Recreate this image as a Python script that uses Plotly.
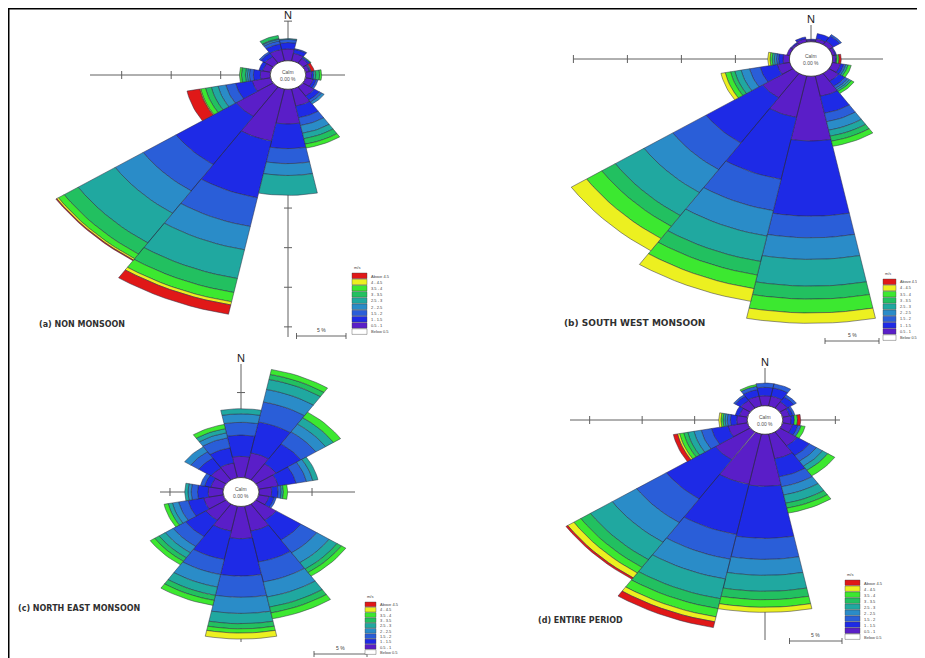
import numpy as np
import plotly.graph_objects as go

OFF = 8                      # page body margin of the exported html
WF, HF = 917, 650            # figure size so that it fills the 925x658 window

# ---------------- data ----------------
directions = ["N", "NNE", "NE", "ENE", "E", "ESE", "SE", "SSE",
              "S", "SSW", "SW", "WSW", "W", "WNW", "NW", "NNW"]
dir_angles = [0, 22.5, 45, 67.5, 90, 112.5, 135, 157.5,
              180, 202.5, 225, 247.5, 270, 292.5, 315, 337.5]

# speed classes drawn from the centre outwards (m/s)
speed_classes = ["0.5 - 1", "1 - 1.5", "1.5 - 2", "2 - 2.5", "2.5 - 3",
                 "3 - 3.5", "3.5 - 4", "4 - 4.5", "Above 4.5"]
class_colors = ["#5A1EC8", "#1E2AE6", "#2A5ED8", "#2A8CC8", "#20A8A0",
                "#22C060", "#3CE830", "#ECF020", "#E01818"]

legend_labels = ["Above 4.5", "4 - 4.5", "3.5 - 4", "3 - 3.5", "2.5 - 3",
                 "2 - 2.5", "1.5 - 2", "1 - 1.5", "0.5 - 1", "Below 0.5"]
legend_colors = ["#E01818", "#ECF020", "#3CE830", "#22C060", "#20A8A0",
                 "#2A8CC8", "#2A5ED8", "#1E2AE6", "#5A1EC8", "#FFFFFF"]

# frequency (%) per speed class (rows, inner -> outer) and direction (columns N..NNW)
non_monsoon = [
    [1.5, 1.0, 0.7, 0.4, 0.6, 0.8, 1.4, 2.2, 4.4, 6.7, 4.5, 1.9, 1.0, 0.8, 1.0, 1.5],
    [0.8, 0.5, 0.2, 0.1, 0.2, 0.3, 0.6, 1.5, 3.1, 7.3, 7.3, 1.7, 0.7, 0.4, 0.5, 0.7],
    [0.4, 0.1, 0.0, 0.0, 0.0, 0.2, 0.3, 1.0, 1.9, 3.7, 4.0, 1.0, 0.4, 0.0, 0.2, 0.4],
    [0.0, 0.0, 0.0, 0.1, 0.0, 0.0, 0.3, 1.0, 1.5, 3.0, 3.4, 0.8, 0.2, 0.0, 0.0, 0.2],
    [0.1, 0.0, 0.0, 0.0, 0.2, 0.0, 0.0, 0.7, 2.5, 3.7, 4.5, 0.7, 0.2, 0.0, 0.0, 0.1],
    [0.0, 0.0, 0.1, 0.0, 0.4, 0.0, 0.0, 0.7, 0.0, 1.8, 1.7, 0.6, 0.4, 0.0, 0.0, 0.4],
    [0.0, 0.0, 0.0, 0.0, 0.2, 0.0, 0.0, 0.5, 0.0, 1.2, 0.7, 0.5, 0.2, 0.0, 0.0, 0.0],
    [0.0, 0.0, 0.0, 0.0, 0.0, 0.0, 0.0, 0.0, 0.0, 0.4, 0.2, 0.1, 0.0, 0.0, 0.0, 0.0],
    [0.0, 0.0, 0.0, 0.3, 0.0, 0.0, 0.0, 0.0, 0.0, 1.2, 0.1, 1.3, 0.0, 0.0, 0.0, 0.0],
]
south_west_monsoon = [
    [0.2, 0.4, 0.5, 0.3, 0.3, 0.8, 1.1, 2.4, 7.5, 4.9, 3.4, 1.2, 0.6, 0.3, 0.2, 0.4],
    [0.1, 0.6, 0.7, 0.1, 0.1, 0.3, 0.7, 2.0, 8.7, 7.3, 6.3, 1.6, 0.4, 0.0, 0.1, 0.2],
    [0.0, 0.0, 0.2, 0.0, 0.0, 0.2, 0.3, 1.0, 2.5, 3.7, 3.7, 1.0, 0.2, 0.0, 0.0, 0.0],
    [0.0, 0.0, 0.0, 0.0, 0.0, 0.0, 0.2, 1.0, 2.5, 3.0, 3.2, 0.8, 0.2, 0.0, 0.0, 0.0],
    [0.0, 0.0, 0.0, 0.0, 0.0, 0.2, 0.2, 0.7, 3.1, 3.0, 3.2, 0.6, 0.2, 0.0, 0.0, 0.0],
    [0.0, 0.0, 0.0, 0.0, 0.0, 0.0, 0.0, 0.6, 1.5, 1.6, 1.5, 0.4, 0.0, 0.0, 0.0, 0.0],
    [0.0, 0.0, 0.0, 0.0, 0.2, 0.3, 0.3, 0.6, 1.6, 1.6, 1.7, 0.5, 0.2, 0.0, 0.0, 0.0],
    [0.0, 0.0, 0.0, 0.0, 0.0, 0.0, 0.0, 0.0, 1.2, 1.5, 1.7, 0.4, 0.2, 0.0, 0.0, 0.0],
    [0.0, 0.0, 0.0, 0.0, 0.2, 0.0, 0.0, 0.0, 0.0, 0.0, 0.0, 0.0, 0.0, 0.0, 0.0, 0.0],
]
north_east_monsoon = [
    [2.5, 3.0, 2.3, 1.9, 1.2, 1.0, 2.3, 3.0, 3.8, 3.0, 2.3, 1.9, 1.4, 1.2, 1.7, 1.8],
    [2.5, 3.7, 2.8, 1.7, 0.6, 0.5, 2.8, 3.7, 4.4, 3.4, 2.3, 1.5, 1.0, 0.6, 1.4, 1.8],
    [1.5, 2.4, 1.7, 1.0, 0.3, 0.2, 1.8, 2.4, 2.5, 1.8, 1.4, 0.9, 0.6, 0.4, 0.9, 1.2],
    [1.0, 1.5, 1.1, 0.6, 0.0, 0.0, 1.4, 1.8, 1.9, 1.5, 0.9, 0.6, 0.3, 0.0, 0.7, 0.6],
    [0.6, 1.2, 0.9, 0.5, 0.2, 0.0, 0.9, 1.2, 1.2, 1.0, 0.7, 0.4, 0.3, 0.0, 0.0, 0.5],
    [0.0, 0.6, 0.0, 0.0, 0.0, 0.0, 0.5, 0.7, 0.6, 0.6, 0.5, 0.0, 0.0, 0.0, 0.0, 0.0],
    [0.0, 0.6, 0.8, 0.0, 0.4, 0.0, 0.5, 0.7, 0.5, 0.6, 0.5, 0.4, 0.0, 0.0, 0.0, 0.5],
    [0.0, 0.0, 0.0, 0.0, 0.0, 0.0, 0.0, 0.0, 0.7, 0.0, 0.0, 0.0, 0.0, 0.0, 0.0, 0.0],
    [0.0, 0.0, 0.0, 0.0, 0.0, 0.0, 0.0, 0.0, 0.0, 0.0, 0.0, 0.0, 0.0, 0.0, 0.0, 0.0],
]
entire_period = [
    [1.2, 1.2, 0.9, 0.7, 0.8, 1.0, 2.0, 3.0, 6.2, 6.1, 4.0, 1.9, 1.0, 0.8, 1.1, 1.2],
    [1.0, 1.0, 0.7, 0.3, 0.3, 0.5, 1.4, 2.2, 6.2, 6.1, 5.6, 1.6, 0.6, 0.4, 0.6, 0.8],
    [0.5, 0.5, 0.3, 0.2, 0.0, 0.3, 0.8, 1.2, 2.5, 3.0, 3.4, 1.0, 0.3, 0.0, 0.2, 0.4],
    [0.0, 0.0, 0.0, 0.0, 0.0, 0.0, 0.7, 1.0, 1.9, 2.4, 2.8, 0.7, 0.2, 0.0, 0.0, 0.0],
    [0.0, 0.0, 0.0, 0.0, 0.0, 0.0, 0.6, 1.0, 1.9, 2.4, 2.5, 0.6, 0.2, 0.0, 0.0, 0.0],
    [0.0, 0.0, 0.0, 0.0, 0.0, 0.0, 0.0, 0.6, 1.0, 1.2, 1.1, 0.4, 0.0, 0.0, 0.0, 0.0],
    [0.0, 0.0, 0.0, 0.0, 0.3, 0.4, 0.8, 0.6, 0.9, 1.0, 0.8, 0.4, 0.2, 0.0, 0.0, 0.2],
    [0.0, 0.0, 0.0, 0.0, 0.0, 0.0, 0.0, 0.0, 0.6, 0.6, 0.7, 0.2, 0.2, 0.0, 0.0, 0.0],
    [0.0, 0.0, 0.0, 0.0, 0.3, 0.0, 0.0, 0.0, 0.0, 0.7, 0.2, 0.4, 0.0, 0.0, 0.0, 0.0],
]

panel_titles = ["(a) NON MONSOON", "(b) SOUTH WEST MONSOON",
                "(c) NORTH EAST MONSOON", "(d) ENTIRE PERIOD"]
calm_text = ["0.00 %", "0.00 %", "0.00 %", "0.00 %"]
scale_step = 5  # % per scale unit

# ---------------- placement (window pixels) ----------------
# cx, cy: rose centre; sx, sy: pixels per % horizontally / vertically
panels = [
    dict(data=non_monsoon, cx=288, cy=75, sx=9.9, sy=7.92, hole=1.8, hl=198, hr=57, vu=54, vd=262,
         title=(37, 325, 8), leg=(352, 273, 15, 6.2, 4), bar=(346, 336)),
    dict(data=south_west_monsoon, cx=811, cy=59, sx=10.8, sy=8.64, hole=2.0, hl=238, hr=72, vu=34, vd=245,
         title=(562, 323, 9), leg=(883, 279, 13, 6.2, 3.8), bar=(879, 341)),
    dict(data=north_east_monsoon, cx=241, cy=492, sx=10.6, sy=8.5, hole=1.7, hl=81, hr=114, vu=128, vd=150,
         title=(16, 608, 8), leg=(365, 602, 11, 5.3, 4), bar=(367, 654)),
    dict(data=entire_period, cx=765, cy=420, sx=10.5, sy=8.4, hole=1.7, hl=195, hr=75, vu=52, vd=220,
         title=(536, 620, 8), leg=(845, 580, 15, 6.0, 4), bar=(842, 641)),
]


def px(x):
    return (x - OFF) / WF


def py(y):
    return 1 - (y - OFF) / HF


fig = go.Figure()
shapes = []
annotations = []
HALF = 11.25


def wedge(theta, r0, r1, n=10):
    a = np.radians(np.linspace(theta - HALF, theta + HALF, n))
    xo, yo = r1 * np.sin(a), r1 * np.cos(a)
    xi, yi = r0 * np.sin(a[::-1]), r0 * np.cos(a[::-1])
    xs = list(xo) + list(xi) + [xo[0]]
    ys = list(yo) + list(yi) + [yo[0]]
    return xs, ys


for i, p in enumerate(panels):
    k = "" if i == 0 else str(i + 1)
    xr, yr = "x" + k, "y" + k
    sx, sy = p["sx"], p["sy"]
    cx, cy = p["cx"] - OFF, p["cy"] - OFF
    h = p["hole"]
    fig.update_layout({
        "xaxis" + k: dict(domain=[0, 1], range=[-cx / sx, (WF - cx) / sx], visible=False,
                          fixedrange=True, anchor=yr),
        "yaxis" + k: dict(domain=[0, 1], range=[-(HF - cy) / sy, cy / sy], visible=False,
                          fixedrange=True, anchor=xr),
    })
    data = np.array(p["data"])
    base = h + np.concatenate([np.zeros((1, 16)), np.cumsum(data, axis=0)[:-1]], axis=0)
    for j, name in enumerate(speed_classes):
        xs, ys = [], []
        for d, ang in enumerate(dir_angles):
            v = data[j, d]
            if v <= 0:
                continue
            wx, wy = wedge(ang, base[j, d], base[j, d] + v)
            xs += wx + [None]
            ys += wy + [None]
        if not xs:
            continue
        fig.add_trace(go.Scatter(x=xs, y=ys, xaxis=xr, yaxis=yr, mode="lines",
                                 fill="toself", fillcolor=class_colors[j],
                                 line=dict(color="#2a2a40", width=0.5),
                                 name=name, showlegend=False, hoverinfo="skip"))

    # cross-hair axes
    lc = "#606060"
    hl, hr, vu, vd = p["hl"] / sx, p["hr"] / sx, p["vu"] / sy, p["vd"] / sy
    tx_, ty_ = 4 / sx, 4 / sy
    shapes.append(dict(type="line", xref=xr, yref=yr, x0=-hl, x1=hr, y0=0, y1=0,
                       line=dict(color=lc, width=1), layer="below"))
    shapes.append(dict(type="line", xref=xr, yref=yr, x0=0, x1=0, y0=vu, y1=-vd,
                       line=dict(color=lc, width=1), layer="below"))
    r = h + scale_step
    while r < hl:
        shapes.append(dict(type="line", xref=xr, yref=yr, x0=-r, x1=-r, y0=-ty_, y1=ty_,
                           line=dict(color=lc, width=1), layer="below"))
        r += scale_step
    r = h + scale_step
    while r < hr:
        shapes.append(dict(type="line", xref=xr, yref=yr, x0=r, x1=r, y0=-ty_, y1=ty_,
                           line=dict(color=lc, width=1), layer="below"))
        r += scale_step
    r = h + scale_step
    while r < vd:
        shapes.append(dict(type="line", xref=xr, yref=yr, x0=-tx_, x1=tx_, y0=-r, y1=-r,
                           line=dict(color=lc, width=1), layer="below"))
        r += scale_step
    r = h + scale_step
    while r < vu:
        shapes.append(dict(type="line", xref=xr, yref=yr, x0=-tx_, x1=tx_, y0=r, y1=r,
                           line=dict(color=lc, width=1), layer="below"))
        r += scale_step

    # calm circle
    shapes.append(dict(type="circle", xref=xr, yref=yr, x0=-h, x1=h, y0=-h, y1=h,
                       fillcolor="white", line=dict(color="#303030", width=0.8), layer="above"))
    annotations.append(dict(xref=xr, yref=yr, x=0, y=0, text="Calm<br>" + calm_text[i],
                            showarrow=False, font=dict(size=5, color="#505050", family="Arial"),
                            align="center"))
    # N label
    annotations.append(dict(xref=xr, yref=yr, x=0, y=vu, yanchor="bottom", text="N",
                            showarrow=False, yshift=-2,
                            font=dict(size=11, color="#202020", family="Arial")))

    # scale bar (5 % on the horizontal scale)
    bx, by = p["bar"]
    xe = (bx - OFF - cx) / sx
    shapes.append(dict(type="line", xref=xr, yref="paper", x0=xe - scale_step, x1=xe,
                       y0=py(by), y1=py(by), line=dict(color="#404040", width=0.8)))
    for xx in (xe - scale_step, xe):
        shapes.append(dict(type="line", xref=xr, yref="paper", x0=xx, x1=xx,
                           y0=py(by - 3), y1=py(by + 3), line=dict(color="#404040", width=0.8)))
    annotations.append(dict(xref=xr, yref="paper", x=xe - scale_step / 2, y=py(by - 1),
                            yanchor="bottom", text="5 %", showarrow=False,
                            font=dict(size=5, color="#404040", family="Arial")))

    # legend
    lx, ly, lw, lh, lfs = p["leg"]
    annotations.append(dict(xref="paper", yref="paper", x=px(lx), y=py(ly - 1),
                            xanchor="left", yanchor="bottom", text="m/s", showarrow=False,
                            font=dict(size=lfs, color="#404040", family="Arial")))
    for m, (lab, col) in enumerate(zip(legend_labels, legend_colors)):
        y0 = ly + m * lh
        shapes.append(dict(type="rect", xref="paper", yref="paper", x0=px(lx), x1=px(lx + lw),
                           y0=py(y0), y1=py(y0 + lh - 0.6), fillcolor=col,
                           line=dict(color="#404040", width=0.4)))
        annotations.append(dict(xref="paper", yref="paper", x=px(lx + lw + 2),
                                y=py(y0 + lh / 2), xanchor="left", yanchor="middle",
                                text=lab, showarrow=False,
                                font=dict(size=lfs, color="#404040", family="Arial")))

    # title
    tx, ty, tsz = p["title"]
    annotations.append(dict(xref="paper", yref="paper", x=px(tx), y=py(ty),
                            xanchor="left", yanchor="middle", text="<b>" + panel_titles[i] + "</b>",
                            showarrow=False,
                            font=dict(size=tsz, color="#303030", family="DejaVu Sans")))

# outer frame (top and left edges visible in the reference)
shapes.append(dict(type="line", xref="paper", yref="paper", x0=0, x1=1, y0=1, y1=1,
                   line=dict(color="black", width=3)))
shapes.append(dict(type="line", xref="paper", yref="paper", x0=0, x1=0, y0=1, y1=0,
                   line=dict(color="black", width=3)))

fig.update_layout(width=WF, height=HF, margin=dict(l=0, r=0, t=0, b=0),
                  paper_bgcolor="white", plot_bgcolor="rgba(0,0,0,0)",
                  showlegend=False, shapes=shapes, annotations=annotations)

fig.write_html("out.html")
